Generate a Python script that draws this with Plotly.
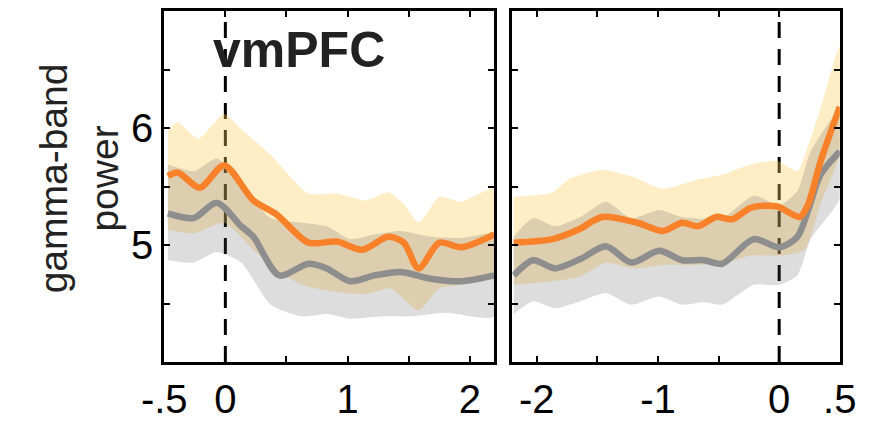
import plotly.graph_objects as go

# ---------------- data: left panel (aligned to cue onset) ----------------
L_or_t = [-0.47, -0.39, -0.21, -0.01, 0.23, 0.42, 0.68, 0.91, 1.12, 1.33, 1.46, 1.58, 1.75, 1.93, 2.2]
L_or_mean = [5.59, 5.62, 5.49, 5.68, 5.38, 5.26, 5.02, 5.03, 4.96, 5.07, 5.02, 4.80, 5.02, 4.98, 5.09]
L_gr_t = [-0.47, -0.26, -0.07, 0.13, 0.23, 0.44, 0.68, 0.83, 1.02, 1.22, 1.43, 1.69, 1.93, 2.2]
L_gr_mean = [5.27, 5.23, 5.36, 5.16, 5.07, 4.74, 4.84, 4.80, 4.69, 4.74, 4.77, 4.71, 4.69, 4.74]

L_or_up_t = [-0.47, -0.39, -0.22, -0.01, 0.13, 0.37, 0.68, 0.91, 1.15, 1.33, 1.46, 1.58, 1.75, 1.93, 2.2]
L_or_up = [5.98, 6.05, 5.91, 6.12, 5.99, 5.77, 5.44, 5.44, 5.38, 5.45, 5.35, 5.19, 5.41, 5.37, 5.48]
L_or_lo_t = [-0.47, -0.26, -0.01, 0.23, 0.44, 0.63, 0.89, 1.15, 1.35, 1.58, 1.75, 1.93, 2.2]
L_or_lo = [5.13, 5.10, 5.19, 4.96, 4.77, 4.66, 4.60, 4.58, 4.63, 4.44, 4.63, 4.66, 4.73]

L_gr_up_t = [-0.47, -0.26, -0.07, 0.13, 0.37, 0.63, 0.83, 1.02, 1.22, 1.43, 1.69, 1.93, 2.2]
L_gr_up = [5.69, 5.63, 5.74, 5.52, 5.23, 5.19, 5.16, 5.05, 5.09, 5.12, 5.07, 5.06, 5.09]
L_gr_lo_t = [-0.47, -0.26, -0.07, 0.13, 0.37, 0.63, 0.83, 1.02, 1.28, 1.54, 1.80, 2.2]
L_gr_lo = [4.87, 4.85, 4.94, 4.85, 4.49, 4.39, 4.41, 4.37, 4.39, 4.39, 4.42, 4.39]

# ---------------- data: right panel (aligned to response) ----------------
R_or_t = [-2.19, -1.87, -1.66, -1.46, -1.17, -0.96, -0.80, -0.67, -0.52, -0.39, -0.23, -0.02, 0.17, 0.24, 0.34, 0.5]
R_or_mean = [5.02, 5.05, 5.13, 5.24, 5.19, 5.12, 5.19, 5.16, 5.24, 5.22, 5.32, 5.33, 5.24, 5.35, 5.71, 6.18]
R_gr_t = [-2.19, -2.03, -1.85, -1.64, -1.43, -1.22, -0.99, -0.80, -0.62, -0.47, -0.21, 0.0, 0.15, 0.24, 0.34, 0.5]
R_gr_mean = [4.74, 4.87, 4.80, 4.88, 4.99, 4.85, 4.95, 4.87, 4.87, 4.84, 5.05, 4.98, 5.07, 5.30, 5.60, 5.80]

R_or_up_t = [-2.19, -1.87, -1.74, -1.46, -1.20, -0.96, -0.67, -0.47, -0.23, -0.02, 0.15, 0.24, 0.34, 0.5]
R_or_up = [5.41, 5.45, 5.56, 5.64, 5.58, 5.48, 5.56, 5.60, 5.69, 5.72, 5.63, 5.85, 6.16, 6.70]
R_or_lo_t = [-2.19, -1.87, -1.64, -1.43, -1.20, -0.96, -0.73, -0.47, -0.23, 0.0, 0.21, 0.34, 0.5]
R_or_lo = [4.66, 4.69, 4.73, 4.85, 4.80, 4.83, 4.83, 4.84, 4.91, 4.91, 4.96, 5.35, 5.78]

R_gr_up_t = [-2.19, -2.03, -1.85, -1.64, -1.43, -1.22, -0.99, -0.80, -0.47, -0.21, 0.0, 0.15, 0.26, 0.5]
R_gr_up = [5.07, 5.23, 5.16, 5.24, 5.37, 5.23, 5.30, 5.24, 5.23, 5.42, 5.34, 5.46, 5.80, 6.15]
R_gr_lo_t = [-2.19, -2.03, -1.85, -1.64, -1.43, -1.22, -0.99, -0.80, -0.62, -0.47, -0.21, 0.0, 0.15, 0.26, 0.5]
R_gr_lo = [4.41, 4.52, 4.46, 4.52, 4.59, 4.49, 4.56, 4.49, 4.51, 4.49, 4.66, 4.66, 4.74, 5.05, 5.40]

# ---------------- axis ticks ----------------
L_xtick_vals = [-0.5, 0, 0.5, 1, 1.5, 2]
L_xtick_text = ["-.5", "0", "", "1", "", "2"]
R_xtick_vals = [-2, -1.5, -1, -0.5, 0, 0.5]
R_xtick_text = ["-2", "", "-1", "", "0", ".5"]
ytick_vals = [4.5, 5, 5.5, 6, 6.5]
ytick_text = ["", "5", "", "6", ""]

ORANGE = "#F9812A"
GRAY = "#8E8E8E"
ORANGE_BAND = "rgba(252,204,90,0.35)"
GRAY_BAND = "rgba(85,85,85,0.2)"
FONT = "Arial, Liberation Sans, Helvetica, sans-serif"

fig = go.Figure()


def band(xu, yu, xl, yl, color, xa, ya):
    fig.add_trace(go.Scatter(
        x=list(xu) + list(xl)[::-1], y=list(yu) + list(yl)[::-1],
        fill="toself", fillcolor=color, mode="lines",
        line=dict(width=0, shape="spline", smoothing=0.6),
        xaxis=xa, yaxis=ya, hoverinfo="skip", showlegend=False))


def line(x, y, color, xa, ya):
    fig.add_trace(go.Scatter(
        x=x, y=y, mode="lines",
        line=dict(color=color, width=6.5, shape="spline", smoothing=0.8),
        xaxis=xa, yaxis=ya, showlegend=False))


for xa, ya, d in [("x", "y", dict(oru=(L_or_up_t, L_or_up), orl=(L_or_lo_t, L_or_lo),
                                  gru=(L_gr_up_t, L_gr_up), grl=(L_gr_lo_t, L_gr_lo),
                                  om=(L_or_t, L_or_mean), gm=(L_gr_t, L_gr_mean))),
                  ("x2", "y2", dict(oru=(R_or_up_t, R_or_up), orl=(R_or_lo_t, R_or_lo),
                                    gru=(R_gr_up_t, R_gr_up), grl=(R_gr_lo_t, R_gr_lo),
                                    om=(R_or_t, R_or_mean), gm=(R_gr_t, R_gr_mean)))]:
    band(*d["oru"], *d["orl"], ORANGE_BAND, xa, ya)
    band(*d["gru"], *d["grl"], GRAY_BAND, xa, ya)
    line(*d["gm"], GRAY, xa, ya)
    line(*d["om"], ORANGE, xa, ya)

axis_common = dict(showline=True, linewidth=3, linecolor="black", mirror="ticks",
                   ticks="inside", ticklen=6, tickwidth=2, tickcolor="black",
                   showgrid=False, zeroline=False,
                   tickfont=dict(family=FONT, size=40, color="black"))

fig.update_layout(
    width=873, height=421,
    margin=dict(l=0, r=0, t=11, b=53),
    paper_bgcolor="white", plot_bgcolor="white",
    xaxis=dict(domain=[148 / 873, 494 / 873], range=[-0.5, 2.2],
               tickvals=L_xtick_vals, ticktext=L_xtick_text, anchor="y", **axis_common),
    yaxis=dict(domain=[0, 1], range=[4.0, 7.0], tickvals=ytick_vals, ticktext=ytick_text,
               anchor="x", **axis_common),
    xaxis2=dict(domain=[513 / 873, 856 / 873], range=[-2.2, 0.5],
                tickvals=R_xtick_vals, ticktext=R_xtick_text, anchor="y2", **axis_common),
    yaxis2=dict(domain=[0, 1], range=[4.0, 7.0], tickvals=ytick_vals,
                ticktext=[""] * len(ytick_vals), anchor="x2", **axis_common),
    shapes=[
        dict(type="line", xref="x", yref="paper", x0=0, x1=0, y0=0, y1=1, layer="below",
             line=dict(color="black", width=3, dash="16px,11px")),
        dict(type="line", xref="x2", yref="paper", x0=0, x1=0, y0=0, y1=1, layer="below",
             line=dict(color="black", width=3, dash="16px,11px")),
    ],
    annotations=[
        dict(text="<b>vmPFC</b>", xref="x", yref="y", x=0.6, y=6.67, showarrow=False,
             xanchor="center", yanchor="middle",
             font=dict(family=FONT, size=50, color="#222222")),
        dict(text="gamma-band<br>power", xref="paper", yref="paper", x=59 / 873, y=0.524,
             xanchor="center", yanchor="middle",
             textangle=-90, showarrow=False,
             font=dict(family=FONT, size=39, color="#222222")),
    ],
)

fig.write_html("out.html")
